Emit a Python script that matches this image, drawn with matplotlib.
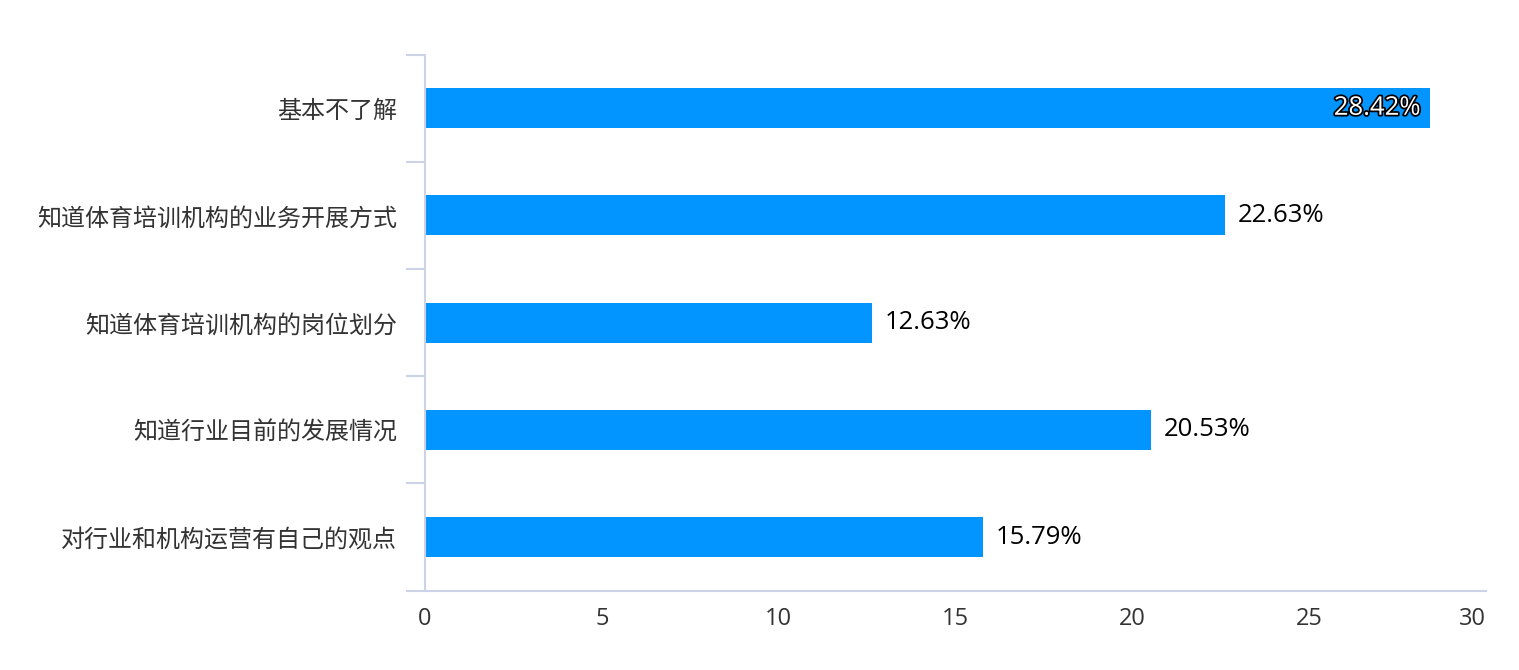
import matplotlib
matplotlib.use("Agg")
import matplotlib.pyplot as plt
import matplotlib.patheffects as pe
import numpy as np

plt.rcParams['font.family'] = ['Noto Sans CJK SC', 'DejaVu Sans']

# data (top to bottom as shown)
categories = ["基本不了解", "知道体育培训机构的业务开展方式", "知道体育培训机构的岗位划分",
              "知道行业目前的发展情况", "对行业和机构运营有自己的观点"]
values = [28.42, 22.63, 12.63, 20.53, 15.79]
xticks = [0, 5, 10, 15, 20, 25, 30]

bar_color = "#0395FF"
axis_color = "#CCD3E8"
num_font = ['Open Sans', 'Noto Sans CJK SC']

fig = plt.figure(figsize=(15.19, 6.7), dpi=100)
ax = fig.add_axes([0.2798, 0.1184, 0.6985, 0.8])

n = len(categories)
ypos = np.arange(n)[::-1]
ax.barh(ypos, values, height=0.373, color=bar_color)

ax.set_xlim(0, 30)
ax.set_ylim(-0.5, n - 0.5)

for s in ["top", "right"]:
    ax.spines[s].set_visible(False)
ax.spines["left"].set_color(axis_color)
ax.spines["bottom"].set_color(axis_color)
ax.spines["left"].set_linewidth(1.5)
ax.spines["bottom"].set_linewidth(1.5)

ax.set_yticks(ypos)
ax.set_yticklabels(categories, fontsize=17.3, color="#333333")
ax.tick_params(axis="y", which="major", length=0, pad=20)
ax.set_yticks(np.arange(-0.5, n, 1.0), minor=True)
ax.tick_params(axis="y", which="minor", length=13.7, width=1.5, color=axis_color)

ax.set_xticks(xticks)
ax.set_xticklabels([str(t) for t in xticks], fontsize=17, color="#333333", family=num_font)
ax.tick_params(axis="x", length=0, pad=12)
ax.get_xticklabels()[-1].set_ha("right")

for y, v in zip(ypos, values):
    label = f"{v:.2f}%"
    if v > 27:
        ax.annotate(label, (v, y), xytext=(-7, 0), textcoords="offset points",
                    ha="right", va="center", fontsize=18.5, color="white", family=num_font,
                    path_effects=[pe.withStroke(linewidth=2.5, foreground="black")])
    else:
        ax.annotate(label, (v, y), xytext=(9, 0), textcoords="offset points",
                    ha="left", va="center", fontsize=18.5, color="black", family=num_font)

fig.savefig("out.png", dpi=100)
